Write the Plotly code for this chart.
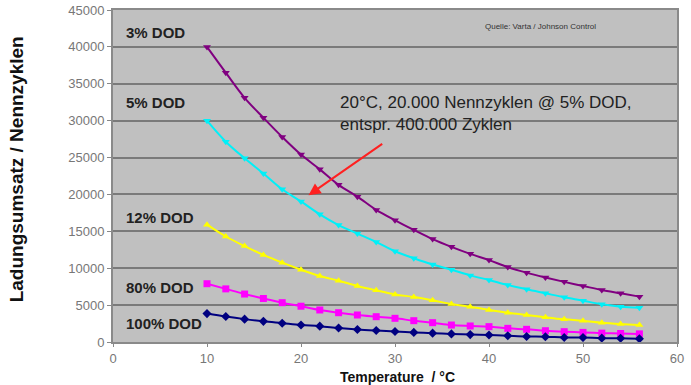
import plotly.graph_objects as go

temps = [10, 12, 14, 16, 18, 20, 22, 24, 26, 28, 30, 32, 34, 36, 38, 40, 42, 44, 46, 48, 50, 52, 54, 56]

dod_3 = [40000, 36500, 33100, 30400, 27800, 25400, 23400, 21300, 19700, 17900, 16500, 15200,
         13950, 12900, 11950, 11100, 10150, 9400, 8750, 8150, 7600, 7050, 6600, 6150]
dod_5 = [30000, 27150, 24900, 22850, 20700, 19050, 17300, 15850, 14700, 13550, 12300, 11350,
         10500, 9800, 9030, 8400, 7730, 7140, 6600, 6060, 5600, 5110, 4790, 4650]
dod_12 = [15900, 14300, 13000, 11800, 10750, 9800, 8950, 8300, 7600, 7000, 6450, 6100,
          5650, 5150, 4790, 4340, 3970, 3660, 3350, 3080, 2890, 2620, 2440, 2300]
dod_80 = [7900, 7200, 6500, 5900, 5330, 4850, 4340, 3970, 3660, 3430, 3210, 2890,
          2620, 2300, 2170, 2080, 1850, 1720, 1530, 1400, 1300, 1200, 1150, 1100]
dod_100 = [3850, 3450, 3100, 2800, 2550, 2300, 2150, 1900, 1700, 1550, 1420, 1300,
           1200, 1100, 1000, 950, 850, 750, 720, 620, 600, 520, 500, 430]

series_names = ["3% DOD", "5% DOD", "12% DOD", "80% DOD", "100% DOD"]
series_values = [dod_3, dod_5, dod_12, dod_80, dod_100]
series_colors = ["#800080", "#00F0F8", "#FFFF00", "#FF00FF", "#000080"]
series_symbols = ["triangle-down", "triangle-down", "triangle-up", "square", "diamond"]
label_y = [41900, 32400, 16900, 7450, 2450]

x_ticks = [0, 10, 20, 30, 40, 50, 60]
y_ticks = [0, 5000, 10000, 15000, 20000, 25000, 30000, 35000, 40000, 45000]

fig = go.Figure()
for name, vals, col, sym in zip(series_names, series_values, series_colors, series_symbols):
    fig.add_trace(go.Scatter(
        x=temps, y=vals, name=name, mode="lines+markers",
        line=dict(color=col, width=2, shape="spline", smoothing=1.0),
        marker=dict(color=col, symbol=sym, size=7),
        showlegend=False,
    ))

for name, ly in zip(series_names, label_y):
    fig.add_annotation(x=1.2, y=ly, xref="x", yref="y", text=name, showarrow=False,
                       xanchor="left", yanchor="middle",
                       font=dict(family="Arial", size=15, color="#222222", weight="bold"))

# red arrow
fig.add_annotation(x=20.8, y=19900, ax=28.8, ay=27000, xref="x", yref="y",
                   axref="x", ayref="y", text="", showarrow=True,
                   arrowhead=2, arrowsize=1.2, arrowwidth=2, arrowcolor="#FF2020")
fig.add_annotation(x=23.9, y=34000, xref="x", yref="y",
                   text="20°C, 20.000 Nennzyklen @ 5% DOD,<br>entspr. 400.000 Zyklen",
                   showarrow=False, xanchor="left", yanchor="top", align="left",
                   font=dict(family="Arial", size=17, color="#222222"))
fig.add_annotation(x=45.5, y=42700, xref="x", yref="y",
                   text="Quelle: Varta / Johnson Control", showarrow=False,
                   font=dict(family="Arial", size=8, color="#333333"))

# axis titles
fig.add_annotation(x=-0.172, y=0.52, xref="paper", yref="paper",
                   xanchor="center", yanchor="middle",
                   text="Ladungsumsatz / Nennzyklen", textangle=-90, showarrow=False,
                   font=dict(family="Arial", size=19, color="#111111", weight="bold"))
fig.add_annotation(x=0.505, y=-0.105, xref="paper", yref="paper",
                   xanchor="center", yanchor="middle",
                   text="Temperature  / °C", showarrow=False,
                   font=dict(family="Arial", size=14, color="#111111", weight="bold"))

fig.update_layout(
    width=691, height=385,
    margin=dict(l=113, r=14, t=10, b=43, autoexpand=False),
    paper_bgcolor="white", plot_bgcolor="#C0C0C0",
    font=dict(family="Arial", color="#666666"),
)
fig.update_xaxes(range=[0, 60], tickvals=x_ticks, showgrid=False, zeroline=False,
                 ticks="outside", ticklen=3, tickcolor="#888888",
                 showline=True, linecolor="#8A8A8A", linewidth=2, mirror=True,
                 tickfont=dict(family="Arial", size=13, color="#777777"))
fig.update_yaxes(range=[0, 45000], tickvals=y_ticks, tickformat="d",
                 showgrid=True, gridcolor="#7A7A7A", gridwidth=2, zeroline=False,
                 ticks="outside", ticklen=4, tickcolor="#888888",
                 showline=True, linecolor="#8A8A8A", linewidth=2, mirror=True,
                 tickfont=dict(family="Arial", size=13, color="#777777"))

fig.write_html("out.html", config={"displayModeBar": False},
               post_script="document.body.style.margin='0';")
